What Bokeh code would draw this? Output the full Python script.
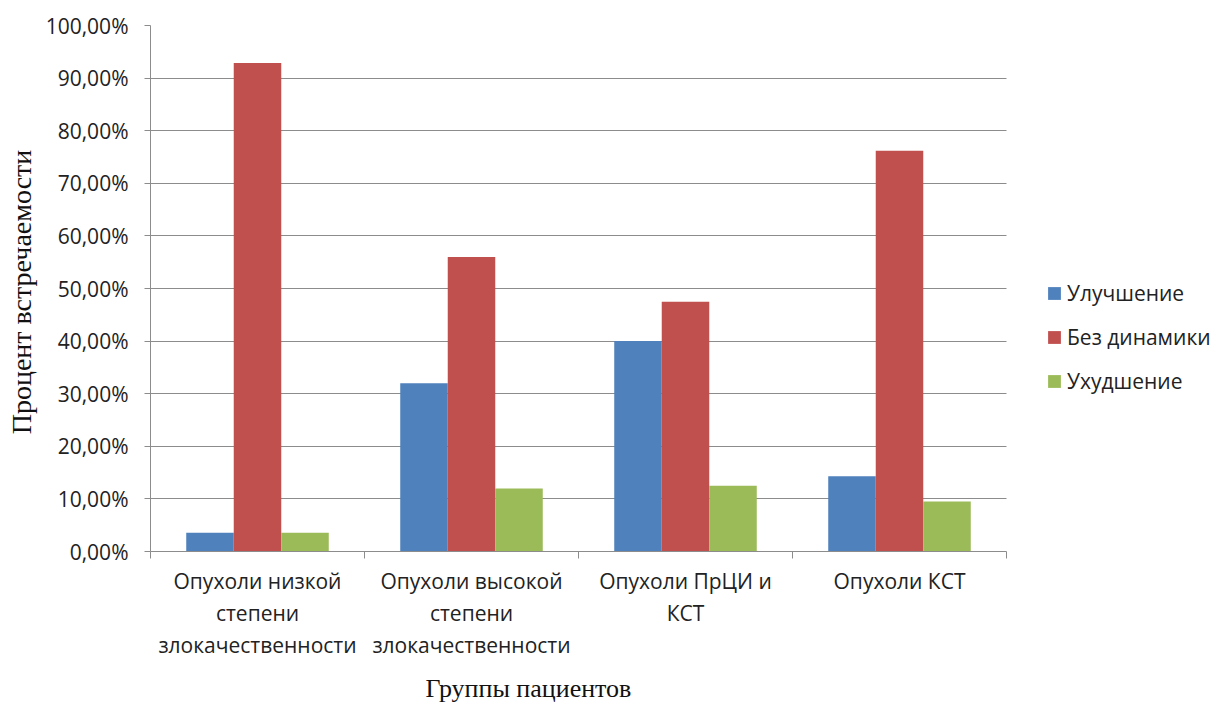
from bokeh.plotting import figure
from bokeh.models import (Range1d, LinearAxis, FixedTicker, Legend, LegendItem, Title,
                          ColumnDataSource)
from bokeh.transform import dodge
from bokeh.embed import file_html
from bokeh.resources import INLINE

categories = [
    "Опухоли низкой степени злокачественности",
    "Опухоли высокой степени злокачественности",
    "Опухоли ПрЦИ и КСТ",
    "Опухоли КСТ",
]
x_tick_labels = [
    "Опухоли низкой\nстепени\nзлокачественности",
    "Опухоли высокой\nстепени\nзлокачественности",
    "Опухоли ПрЦИ и\nКСТ",
    "Опухоли КСТ",
]
series_names = ["Улучшение", "Без динамики", "Ухудшение"]
improvement = [3.57, 32.0, 40.0, 14.29]
no_change = [92.86, 56.0, 47.5, 76.19]
worsening = [3.57, 12.0, 12.5, 9.52]
y_ticks = [0, 10, 20, 30, 40, 50, 60, 70, 80, 90, 100]
y_tick_labels = ["0,00%", "10,00%", "20,00%", "30,00%", "40,00%", "50,00%",
                 "60,00%", "70,00%", "80,00%", "90,00%", "100,00%"]
y_title = "Процент  встречаемости"
x_title = "Группы пациентов"
colors = ["#4F81BD", "#C0504D", "#9BBB59"]

n = len(categories)
centres = [i + 0.5 for i in range(n)]   # category slot centres on the x scale
src = ColumnDataSource(dict(cat=categories, pos=centres,
                            s0=improvement, s1=no_change, s2=worsening))

TICK_FONT = "Open Sans"
SERIF = "Liberation Serif"
GRID = "#8c8c8c"

W, H = 1216, 712
LEFT, TOP, BOTTOM = 150, 25, 160
AXIS_RIGHT = 1006  # where the category area ends; space beyond holds the legend
x_end = n * (W - LEFT) / (AXIS_RIGHT - LEFT)

p = figure(width=W, height=H, output_backend="svg", toolbar_location=None,
           x_range=Range1d(0, x_end), y_range=Range1d(0, 100), x_axis_location=None,
           min_border_left=LEFT, min_border_right=0, min_border_top=TOP, min_border_bottom=BOTTOM)
p.outline_line_color = None
p.background_fill_color = "white"
p.border_fill_color = "white"

# horizontal gridlines limited to the category area
p.xgrid.visible = False
ygrid = p.ygrid[0]
ygrid.grid_line_color = GRID
ygrid.grid_line_width = 1
try:
    ygrid.cross_bounds = (0, n)
except Exception:
    ygrid.visible = False
    p.segment(x0=[0] * len(y_ticks), x1=[n] * len(y_ticks), y0=y_ticks, y1=y_ticks,
              line_color=GRID, line_width=1)

bw = 0.222
renderers = []
for i, key in enumerate(["s0", "s1", "s2"]):
    r = p.vbar(x=dodge("pos", (i - 1) * bw), top=key, width=bw,
               source=src, fill_color=colors[i], line_color=None)
    renderers.append(r)

# x axis: labels at category centres, ticks at category boundaries
xaxis = LinearAxis(ticker=FixedTicker(ticks=centres, minor_ticks=list(range(n + 1))),
                   bounds=(0, n))
xaxis.major_label_overrides = {c: lab for c, lab in zip(centres, x_tick_labels)}
xaxis.major_tick_in = 0
xaxis.major_tick_out = 0
xaxis.minor_tick_in = 0
xaxis.minor_tick_out = 7
xaxis.minor_tick_line_color = GRID
xaxis.axis_line_color = GRID
xaxis.major_label_standoff = 8
xaxis.major_label_text_font = TICK_FONT
xaxis.major_label_text_font_size = "21px"
xaxis.major_label_text_color = "#222222"
xaxis.major_label_text_line_height = 1.15
xaxis.major_label_orientation = "horizontal"
p.add_layout(xaxis, "below")

yaxis = p.yaxis[0]
yaxis.ticker = FixedTicker(ticks=y_ticks, minor_ticks=[])
yaxis.major_label_overrides = {t: l for t, l in zip(y_ticks, y_tick_labels)}
yaxis.major_tick_in = 0
yaxis.major_tick_out = 6
yaxis.major_tick_line_color = GRID
yaxis.axis_line_color = GRID
yaxis.major_label_standoff = 16
yaxis.major_label_text_font = TICK_FONT
yaxis.major_label_text_font_size = "21px"
yaxis.major_label_text_color = "#222222"
yaxis.axis_label = y_title
yaxis.axis_label_text_font = SERIF
yaxis.axis_label_text_font_size = "28px"
yaxis.axis_label_text_font_style = "normal"
yaxis.axis_label_text_color = "#111111"
yaxis.axis_label_standoff = 6

t = Title(text=x_title, align="left", offset=275, standoff=20, text_font=SERIF,
          text_font_size="26px", text_font_style="normal", text_color="#111111")
p.add_layout(t, "below")

legend = Legend(items=[LegendItem(label=n_, renderers=[r]) for n_, r in zip(series_names, renderers)],
                location=(896, 156), border_line_color=None, background_fill_alpha=0,
                padding=0, margin=0, spacing=16, glyph_width=16, glyph_height=16,
                label_height=22, label_standoff=5,
                label_text_font=TICK_FONT, label_text_font_size="21px",
                label_text_color="#222222")
p.add_layout(legend, "center")

open("out.html", "w").write(file_html(p, INLINE))
